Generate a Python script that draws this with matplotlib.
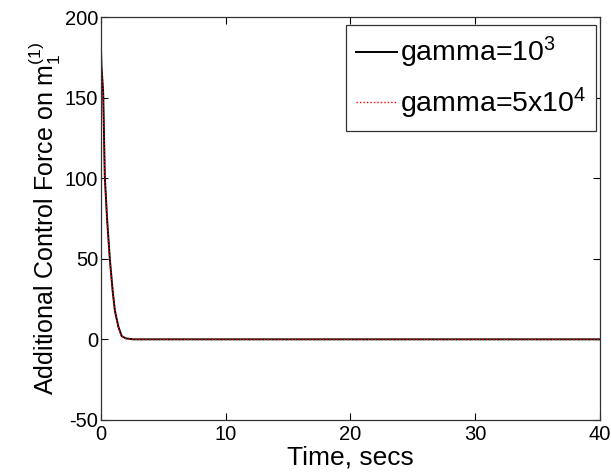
import matplotlib
matplotlib.use("Agg")
import matplotlib.pyplot as plt

plt.rcParams["font.family"] = ["Liberation Sans", "DejaVu Sans"]
plt.rcParams["mathtext.fontset"] = "custom"
plt.rcParams["mathtext.rm"] = "Liberation Sans"
plt.rcParams["mathtext.it"] = "Liberation Sans"

# control force samples (time in secs, force)
time_s = [0.0, 0.05, 0.19, 0.32, 0.5, 0.73, 0.95, 1.13, 1.4, 1.67, 2.0, 2.6, 5, 10, 20, 30, 40]
force_g1e3 = [184.5, 170, 153, 101, 75, 49, 30, 17.7, 8, 2.0, 0.6, 0.0, 0, 0, 0, 0, 0]
force_g5e4 = [184.0, 169, 152, 100, 74, 48, 29.5, 17.5, 7.8, 2.0, 0.6, 0.0, 0, 0, 0, 0, 0]

x_ticks = [0, 10, 20, 30, 40]
y_ticks = [-50, 0, 50, 100, 150, 200]

fig = plt.figure(figsize=(6.11, 4.75), dpi=100)
ax = fig.add_axes([0.165, 0.116, 0.817, 0.848])

ax.plot(time_s, force_g1e3, color="black", lw=1.4, label="gamma=10$^3$")
ax.plot(time_s, force_g5e4, color="red", lw=1.0, ls=(0, (1, 1.5)), label="gamma=5x10$^4$")

ax.set_xlim(0, 40)
ax.set_ylim(-50, 200)
ax.set_xticks(x_ticks)
ax.set_yticks(y_ticks)
ax.set_yticklabels([str(v) for v in y_ticks])
ax.tick_params(direction="in", top=True, right=True, labelsize=14.5, length=5, width=0.8, pad=2)
ax.tick_params(axis="x", pad=4)
for sp in ax.spines.values():
    sp.set_linewidth(0.9)
    sp.set_color("#333333")

ax.set_xlabel("Time, secs", fontsize=19, labelpad=1)
ax.set_ylabel("Additional Control Force on m$_1^{(1)}$", fontsize=18, labelpad=1)

leg = ax.legend(loc="upper right", bbox_to_anchor=(596 / 611, 1 - 25 / 475),
                bbox_transform=fig.transFigure, borderaxespad=0,
                fontsize=20.5, handlelength=1.45, handletextpad=0.1,
                borderpad=0.35, labelspacing=0.55, fancybox=False, framealpha=1)
leg.get_frame().set_edgecolor("#333333")
leg.get_frame().set_linewidth(0.9)

fig.savefig("out.png", dpi=100)
